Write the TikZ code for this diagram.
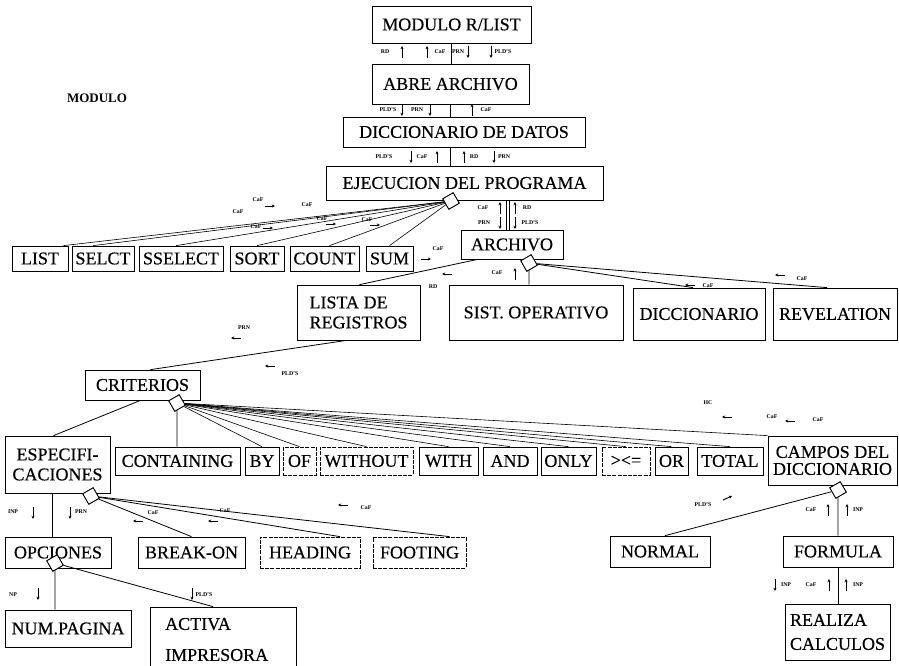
\documentclass[tikz,border=0pt]{standalone}
\usepackage{fontspec}
\setmainfont{Liberation Serif}
\newfontfamily\scanfont{Liberation Serif}[FakeBold=0.35]
\usetikzlibrary{calc,arrows.meta}
\newcommand\arrU[2]{\draw[sa] (#1,#2+6) -- (#1,#2-6);}
\newcommand\arrD[2]{\draw[sa] (#1,#2-6) -- (#1,#2+6);}
\newcommand\arrL[2]{\draw[sa] (#1+5,#2) -- (#1-5,#2);}
\newcommand\arrR[2]{\draw[sa] (#1-5,#2) -- (#1+5,#2);}
\begin{document}
\begin{tikzpicture}[x=1pt,y=-1pt,
  bx/.style={draw, line width=0.75pt, inner sep=0pt, font=\scanfont\fontsize{18}{20}\selectfont, align=center},
  dbx/.style={bx, dash pattern=on 4pt off 1.2pt},
  dmd/.style={draw, line width=0.8pt, fill=white, minimum size=12pt, inner sep=0pt, rotate=30},
  cn/.style={line width=0.8pt},
  lb/.style={font=\fontsize{5.8}{6}\selectfont\bfseries, inner sep=0pt},
  sa/.style={line width=0.9pt, -{Stealth[length=3.2pt,width=3pt]}}
]
\useasboundingbox (0,0) rectangle (899,666);
\node[font=\fontsize{13}{14}\selectfont\bfseries, inner sep=0pt] (title) at (97,98) {MODULO};

% boxes
\node[bx, minimum width=159pt, minimum height=37pt] (mod) at (451.5,24.5) {MODULO R/LIST};
\node[bx, minimum width=157pt, minimum height=40pt] (abre) at (450.5,84) {ABRE ARCHIVO};
\node[bx, minimum width=242pt, minimum height=30pt] (dicc) at (464,132) {DICCIONARIO DE DATOS};
\node[bx, minimum width=277pt, minimum height=34pt] (ejec) at (464.5,183) {EJECUCION DEL PROGRAMA};

\node[bx, minimum width=56pt, minimum height=25pt] (list) at (40,258.5) {LIST};
\node[bx, minimum width=62pt, minimum height=25pt] (selct) at (103,258.5) {SELCT};
\node[bx, minimum width=84pt, minimum height=25pt] (sselect) at (181,258.5) {SSELECT};
\node[bx, minimum width=54pt, minimum height=25pt] (sort) at (257,258.5) {SORT};
\node[bx, minimum width=69pt, minimum height=25pt] (count) at (324.5,258.5) {COUNT};
\node[bx, minimum width=47pt, minimum height=25pt] (sum) at (389.5,258.5) {SUM};
\node[bx, minimum width=102pt, minimum height=29pt] (archivo) at (512,244.5) {ARCHIVO};

\node[bx, minimum width=123pt, minimum height=55pt, align=left] (lista) at (358.5,312.5) {LISTA DE\\REGISTROS};
\node[bx, minimum width=174pt, minimum height=55pt] (sist) at (536,312.5) {SIST. OPERATIVO};
\node[bx, minimum width=132pt, minimum height=52pt] (diccio) at (699,314) {DICCIONARIO};
\node[bx, minimum width=124pt, minimum height=52pt] (revel) at (835,314) {REVELATION};

\node[bx, minimum width=115pt, minimum height=30pt] (crit) at (142.5,385) {CRITERIOS};
\node[bx, minimum width=105pt, minimum height=57pt] (espec) at (57.5,464.5) {ESPECIFI-\\CACIONES};
\node[bx, minimum width=125pt, minimum height=28pt] (containing) at (177.5,461) {CONTAINING};
\node[bx, minimum width=34pt, minimum height=28pt] (by) at (262,461) {BY};
\node[dbx, minimum width=33pt, minimum height=28pt] (of) at (299.5,461) {OF};
\node[dbx, minimum width=93pt, minimum height=28pt] (without) at (366.5,461) {WITHOUT};
\node[bx, minimum width=59pt, minimum height=28pt] (with) at (448.5,461) {WITH};
\node[bx, minimum width=54pt, minimum height=28pt] (and) at (510,461) {AND};
\node[bx, minimum width=55pt, minimum height=28pt] (only) at (568.5,461) {ONLY};
\node[dbx, minimum width=48pt, minimum height=28pt] (ge) at (626,461) {\textgreater\textless=};
\node[bx, minimum width=33pt, minimum height=28pt] (or) at (671.5,461) {OR};
\node[bx, minimum width=66pt, minimum height=28pt] (total) at (730,461) {TOTAL};
\node[bx, minimum width=129pt, minimum height=49pt, font=\scanfont\fontsize{18}{17}\selectfont] (campos) at (832.5,460.5) {CAMPOS DEL\\DICCIONARIO};

\node[bx, minimum width=106pt, minimum height=31pt] (opciones) at (58,552.5) {OPCIONES};
\node[bx, minimum width=107pt, minimum height=31pt] (breakon) at (191.5,552.5) {BREAK-ON};
\node[dbx, minimum width=100pt, minimum height=31pt] (heading) at (310,552.5) {HEADING};
\node[dbx, minimum width=93pt, minimum height=31pt] (footing) at (419.5,552.5) {FOOTING};
\node[bx, minimum width=126pt, minimum height=37pt] (numpag) at (68,628.5) {NUM.PAGINA};
\node[bx, minimum width=146pt, minimum height=83pt] (activa) at (223,648.5) {};
\node[font=\scanfont\fontsize{18}{31}\selectfont, align=left, inner sep=0pt, anchor=west] (activaT) at (165,639.5) {ACTIVA\\IMPRESORA};
\node[bx, minimum width=100pt, minimum height=31pt] (normal) at (660,551.5) {NORMAL};
\node[bx, minimum width=110pt, minimum height=31pt] (formula) at (838,551.5) {FORMULA};
\node[bx, minimum width=105pt, minimum height=56pt, align=left, font=\scanfont\fontsize{18}{24}\selectfont] (realiza) at (837.5,632) {REALIZA\\CALCULOS};

% diamonds
\node[dmd] (ejecD) at (451,201) {};
\node[dmd] (archD) at (529,263) {};
\node[dmd] (critD) at (177,403) {};
\node[dmd] (especD) at (91,496) {};
\node[dmd] (opcD) at (55,563) {};
\node[dmd] (campD) at (838,490) {};

% main connectors
\draw[cn] (mod.south) -- (mod.south |- abre.north);
\draw[cn] (abre.south) -- (abre.south |- dicc.north);
\draw[cn] ($(dicc.south)+(-14,0)$) -- ($(ejec.north)+(-14.5,0)$);
\draw[cn] ($(ejec.south west)+(181,0)$) -- ($(archivo.north west)+(46,0)$);
\draw[cn] ($(ejec.south west)+(184,0)$) -- ($(archivo.north west)+(49,0)$);

\draw[cn, line width=0.6pt] (ejecD) -- ($(list.north east)+(-5,0)$);
\draw[cn, line width=0.6pt] (ejecD) -- ($(selct.north)+(-10,0)$);
\draw[cn, line width=0.6pt] (ejecD) -- ($(sselect.north)+(-5,0)$);
\draw[cn, line width=0.6pt] (ejecD) -- (sort.north);
\draw[cn, line width=0.6pt] (ejecD) -- ($(count.north)+(5,0)$);
\draw[cn, line width=0.6pt] (ejecD) -- (sum.north);

\draw[cn] ($(archivo.south west)+(17,0)$) -- ($(lista.north)+(1,0)$);
\draw[cn] (archD) -- (archD |- sist.north);
\draw[cn] (archD) -- ($(diccio.north)+(-6,0)$);
\draw[cn] (archD) -- ($(revel.north)+(-8,0)$);
\draw[cn] ($(lista.south)+(-12,0)$) -- ($(crit.north)+(8,0)$);
\draw[cn] ($(crit.south)+(-2,0)$) -- ($(espec.north)+(-4,0)$);
\draw[cn] (critD) -- (critD |- containing.north);
\foreach \b in {by,of,without,with,and,only,ge,or,total}
  \draw[cn, line width=0.6pt] (critD) -- (\b.north);
\draw[cn, line width=0.6pt] (critD) -- (campos.north west);
\draw[cn] ($(espec.south)+(-5.5,0)$) -- ($(opciones.north)+(-6,0)$);
\draw[cn] (especD) -- (breakon.north);
\draw[cn] (especD) -- ($(heading.north)+(30,0)$);
\draw[cn] (especD) -- ($(footing.north)+(30,0)$);
\draw[cn] (opcD) -- (opcD |- numpag.north);
\draw[cn] (opcD) -- ($(activa.north)+(-10,0)$);
\draw[cn] (campD) -- ($(normal.north)+(5,0)$);
\draw[cn] (campD) -- (campD |- formula.north);
\draw[cn] (formula.south) -- (formula.south |- realiza.north);

% redraw diamonds on top
\node[dmd] (ejecD2) at (ejecD) {};
\node[dmd] (archD2) at (archD) {};
\node[dmd] (critD2) at (critD) {};
\node[dmd] (especD2) at (especD) {};
\node[dmd] (opcD2) at (opcD) {};
\node[dmd] (campD2) at (campD) {};

% labels row 1
\node[lb] (a1) at (385,52) {RD}; \arrU{402}{52}
\arrU{427}{52} \node[lb] (a2) at (440,52) {CaF};
\node[lb] (a3) at (458,52) {PRN}; \arrD{468}{52}
\arrD{491}{52} \node[lb] (a4) at (503,52) {PLD'S};
% row 2
\node[lb] (b1) at (388,110) {PLD'S}; \arrD{402}{110}
\node[lb] (b2) at (417,110) {PRN}; \arrD{430}{110}
\arrU{472}{110} \node[lb] (b3) at (486,110) {CaF};
% row 3
\node[lb] (c1) at (384,157) {PLD'S}; \arrD{411}{157}
\node[lb] (c2) at (422,157) {CaF}; \arrU{437}{157}
\arrU{464}{157} \node[lb] (c3) at (474,157) {RD};
\arrD{494}{157} \node[lb] (c4) at (504,157) {PRN};
% row 4
\node[lb] (d1) at (483,208) {CaF}; \arrU{500}{208}
\arrU{515}{208} \node[lb] (d2) at (527,208) {RD};
\node[lb] (d3) at (484,223) {PRN}; \arrD{500}{223}
\arrD{515}{223} \node[lb] (d4) at (530,223) {PLD'S};
% ejec fan labels
\node[lb] (e1) at (258,200) {CaF}; \arrR{270}{206}
\node[lb] (e2) at (307,205) {CaF};
\node[lb] (e3) at (238,212) {CaF};
\node[lb] (e4) at (322,219) {CaF}; \arrR{331}{224}
\node[lb] (e5) at (256,227) {CaF}; \arrR{268}{228}
\node[lb] (e6) at (367,220) {CaF}; \arrR{375}{225}
\node[lb] (e7) at (438,249) {CaF}; \arrR{426}{259}
% archivo labels
\arrL{447}{274} \node[lb] (f1) at (433,287) {RD};
\node[lb] (f2) at (497,273) {CaF}; \arrU{515}{274}
\arrL{690}{285} \node[lb] (f3) at (708,286) {CaF};
\arrL{780}{275} \node[lb] (f4) at (802,279) {CaF};
% lista labels
\node[lb] (g1) at (244,328) {PRN}; \arrL{236}{338}
\arrL{270}{366} \node[lb] (g2) at (290,374) {PLD'S};
% criterios labels
\node[lb] (h1) at (708,403) {HC}; \arrL{727}{417}
\node[lb] (h2) at (772,417) {CaF}; \arrL{790}{421}
\node[lb] (h3) at (818,420) {CaF};
% especificaciones labels
\node[lb] (i1) at (13,512) {INP}; \arrD{33}{513}
\arrD{70}{513} \node[lb] (i2) at (81,512) {PRN};
\arrL{138}{521} \node[lb] (i3) at (153,513) {CaF};
\arrL{213}{521} \node[lb] (i4) at (225,511) {CaF};
\arrL{343}{505} \node[lb] (i5) at (366,508) {CaF};
% opciones labels
\node[lb] (j1) at (13,595) {NP}; \arrD{38}{594}
\arrD{192}{594} \node[lb] (j2) at (204,595) {PLD'S};
% campos labels
\node[lb] (k1) at (703,505) {PLD'S}; \draw[sa] (723,500) -- (732,496);
\node[lb] (k2) at (811,510) {CaF}; \arrU{828}{510}
\arrU{847}{510} \node[lb] (k3) at (858,510) {INP};
% formula labels
\arrD{775}{585} \node[lb] (m1) at (786,585) {INP};
\node[lb] (m2) at (811,585) {CaF}; \arrU{829}{585}
\arrU{846}{585} \node[lb] (m3) at (858,585) {INP};
\end{tikzpicture}
\end{document}
